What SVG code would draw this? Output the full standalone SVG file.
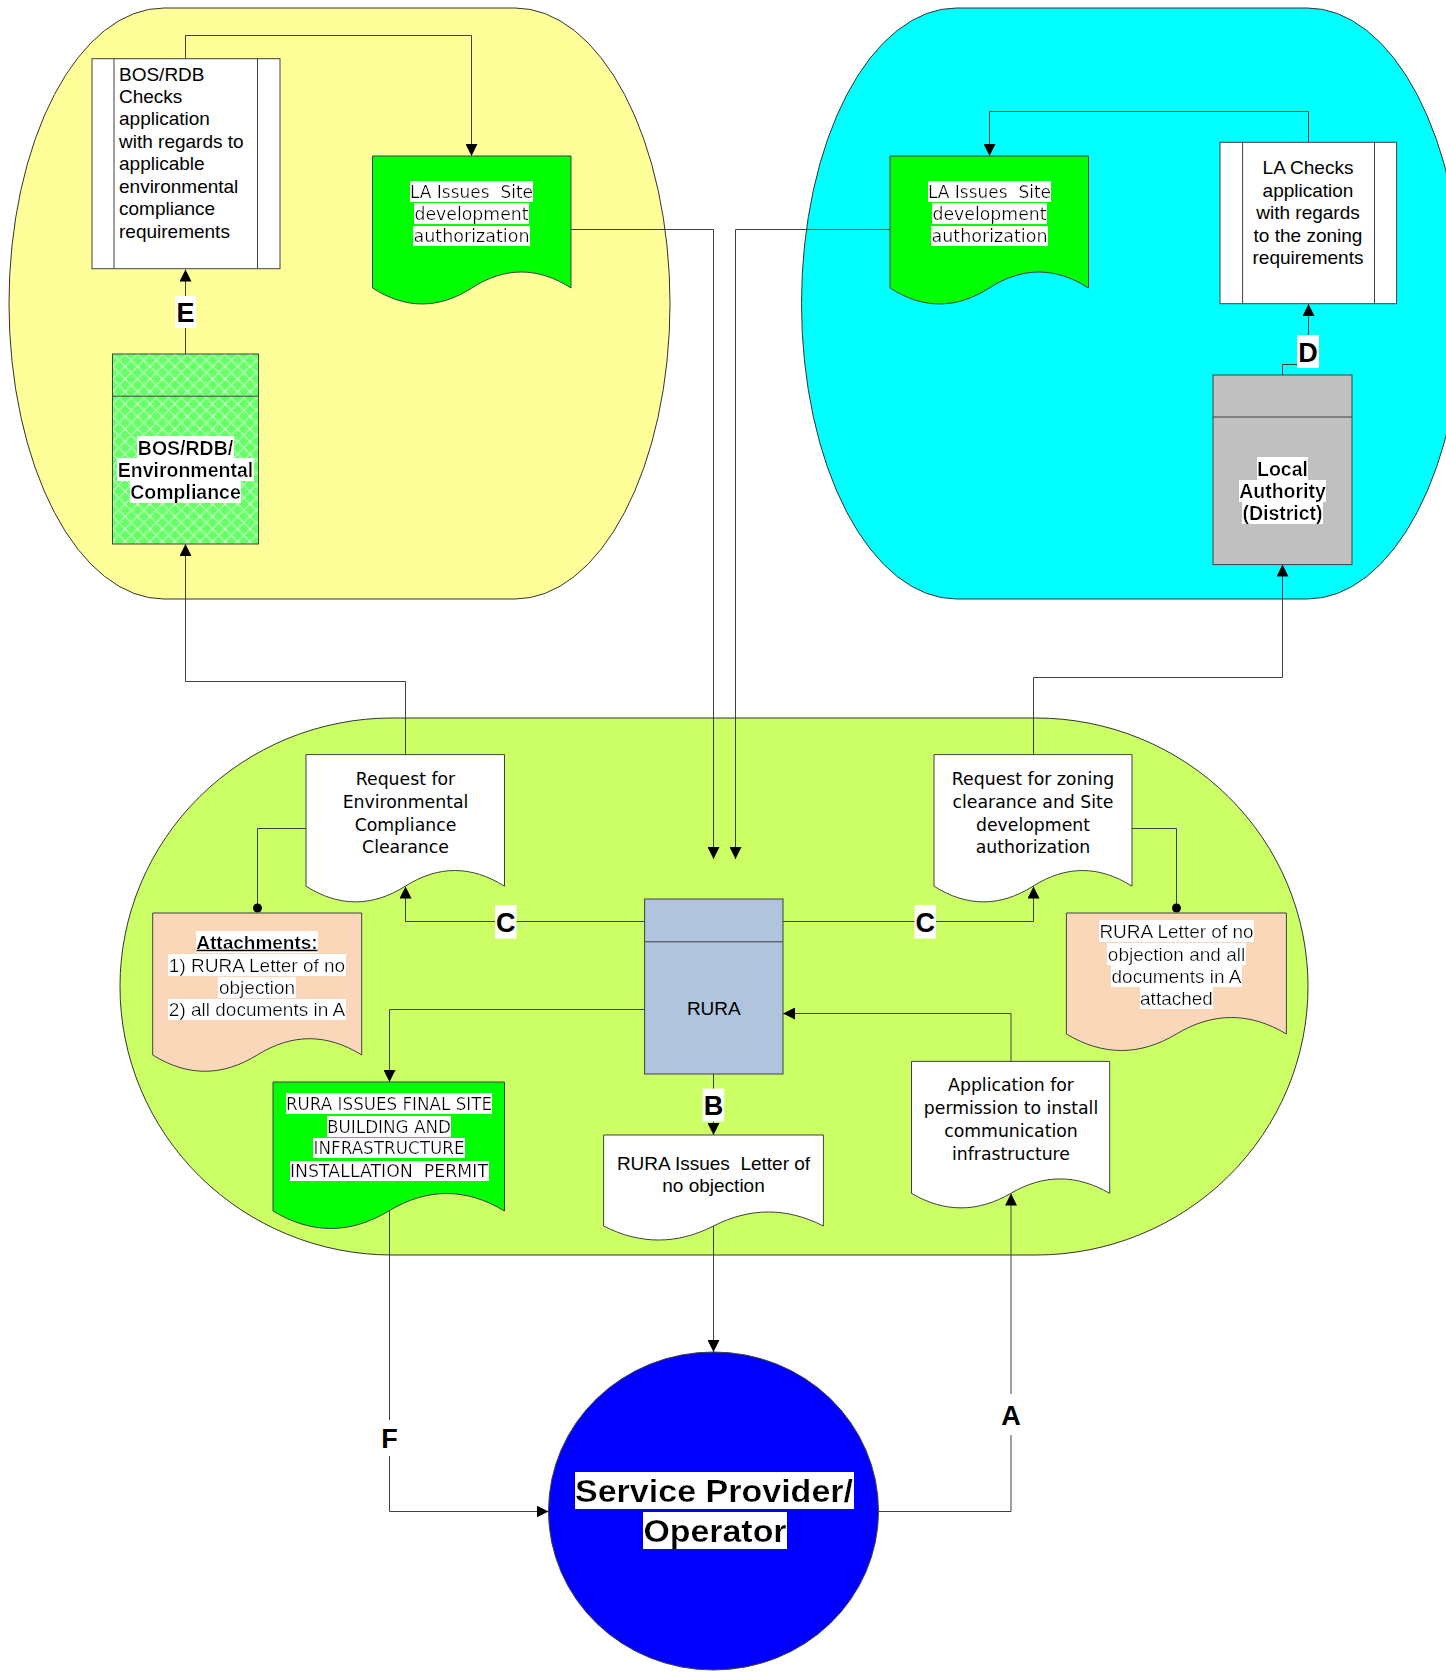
<svg xmlns="http://www.w3.org/2000/svg" width="1446" height="1672" viewBox="0 0 1446 1672">
<defs>
<style>
.blob{stroke:#333;stroke-width:1}
.node{stroke:#404040;stroke-width:1}
.conn{fill:none;stroke:#404040;stroke-width:1}
.t{font-family:"Liberation Sans",Arial,sans-serif;font-size:19px;text-anchor:middle;fill:#000}
.l{text-anchor:start}
.b{font-weight:bold;font-size:19.5px}
.th{font-family:"DejaVu Sans",Tahoma,Verdana,sans-serif;font-size:17.3px}
.tc{font-family:"DejaVu Sans",Tahoma,sans-serif;font-size:17.5px}
.pre{white-space:pre}
.lbl{font-family:"Liberation Sans",Arial,sans-serif;font-weight:bold;font-size:27px;text-anchor:middle;fill:#000}
.sp{font-family:"Liberation Sans",Arial,sans-serif;font-weight:bold;font-size:32px;text-anchor:middle;fill:#000}
.lb{fill:#fff}
</style>
<filter id="hl" x="0" y="0" width="1" height="1">
<feFlood flood-color="#ffffff" result="bg"/>
<feMerge><feMergeNode in="bg"/><feMergeNode in="SourceGraphic"/></feMerge>
</filter>
<marker id="arr" viewBox="0 0 12 12" refX="12" refY="6" markerWidth="12" markerHeight="12" markerUnits="userSpaceOnUse" orient="auto">
<path d="M0,0 L12,6 L0,12 Z" fill="#000"/>
</marker>
<pattern id="hatch" x="112.5" y="354" width="12.5" height="12.5" patternUnits="userSpaceOnUse">
<rect width="12.5" height="12.5" fill="#66FF66"/>
<path d="M0,0 L12.5,12.5 M12.5,0 L0,12.5" stroke="#ffffff" stroke-width="1.3" stroke-dasharray="1.6 1" opacity="0.85"/>
</pattern>
</defs>
<rect width="1446" height="1672" fill="#fff"/>

<g id="zone-environment">
<rect class="blob" x="9" y="8" width="661" height="591" rx="155" ry="295.5" fill="#FFFF99"/>
</g>
<g id="zone-local-authority">
<rect class="blob" x="801.5" y="8" width="661" height="591" rx="155" ry="295.5" fill="#00FFFF"/>
</g>
<g id="zone-rura">
<rect class="blob" x="120" y="718" width="1188" height="537" rx="272" ry="268.5" fill="#CCFF66"/>
</g>

<g id="connectors">
<path class="conn" d="M185.5,58.7 V35.5 H471.5 V156" marker-end="url(#arr)"/>
<path class="conn" d="M571,229.5 H713.5 V859" marker-end="url(#arr)"/>
<path class="conn" d="M890,229.5 H735.5 V859" marker-end="url(#arr)"/>
<path class="conn" d="M1308.5,142.3 V111.5 H989.5 V156" marker-end="url(#arr)"/>
<path class="conn" d="M1282.5,375 V364.5 H1308.5 V304" marker-end="url(#arr)"/>
<path class="conn" d="M185.5,354 V269.5" marker-end="url(#arr)"/>
<path class="conn" d="M405.5,754.6 V681.5 H185.5 V544" marker-end="url(#arr)"/>
<path class="conn" d="M1033.5,754.6 V677.5 H1282.5 V564.5" marker-end="url(#arr)"/>
<path class="conn" d="M306,828.5 H257.5 V908"/>
<circle cx="257.5" cy="908" r="4.5" fill="#000"/>
<path class="conn" d="M1132,828.5 H1176.5 V908"/>
<circle cx="1176.5" cy="908" r="4.5" fill="#000"/>
<path class="conn" d="M644.6,921.5 H405.5 V886.5" marker-end="url(#arr)"/>
<path class="conn" d="M783,921.5 H1033.5 V886.5" marker-end="url(#arr)"/>
<path class="conn" d="M644.6,1009.5 H389.5 V1082" marker-end="url(#arr)"/>
<path class="conn" d="M713.5,1074 V1135" marker-end="url(#arr)"/>
<path class="conn" d="M1011,1061.4 V1013.5 H783" marker-end="url(#arr)"/>
<path class="conn" d="M713.5,1226 V1352" marker-end="url(#arr)"/>
<path class="conn" d="M389.5,1211 V1511.5 H548.5" marker-end="url(#arr)"/>
<path class="conn" d="M878.5,1511.5 H1011 V1193.5" marker-end="url(#arr)"/>
</g>

<g id="bos-checks">
<rect class="node" x="92" y="58.7" width="188" height="210" fill="#fff"/>
<line class="node" x1="114" y1="58.7" x2="114" y2="268.7"/>
<line class="node" x1="257.5" y1="58.7" x2="257.5" y2="268.7"/>
<text class="t l" x="119" y="80.5">BOS/RDB</text>
<text class="t l" x="119" y="102.5">Checks</text>
<text class="t l" x="119" y="125">application</text>
<text class="t l" x="119" y="147.5">with regards to</text>
<text class="t l" x="119" y="170">applicable</text>
<text class="t l" x="119" y="192.5">environmental</text>
<text class="t l" x="119" y="215">compliance</text>
<text class="t l" x="119" y="237.5">requirements</text>
</g>

<g id="la-issues-env">
<path class="node" fill="#00FF00" d="M372.5,156 H571 V288 C537.9,266.7 504.8,266.7 471.75,288 C438.7,309.3 405.6,309.3 372.5,288 Z"/>
<text class="t tc pre" x="471.5" y="197.5" textLength="123" lengthAdjust="spacingAndGlyphs" filter="url(#hl)">LA Issues  Site</text>
<text class="t tc" x="471.5" y="219.5" textLength="114" lengthAdjust="spacingAndGlyphs" filter="url(#hl)">development</text>
<text class="t tc" x="471.5" y="242" textLength="116" lengthAdjust="spacingAndGlyphs" filter="url(#hl)">authorization</text>
</g>

<g id="bos-env-compliance">
<rect class="node" x="112.5" y="354" width="146" height="190" fill="url(#hatch)"/>
<line class="node" x1="112.5" y1="396.2" x2="258.5" y2="396.2"/>
<text class="t b" x="185.5" y="454.5" filter="url(#hl)">BOS/RDB/</text>
<text class="t b" x="185.5" y="476.5" filter="url(#hl)">Environmental</text>
<text class="t b" x="185.5" y="499" filter="url(#hl)">Compliance</text>
</g>

<g id="la-issues-zoning">
<path class="node" fill="#00FF00" d="M890,156 H1088.5 V288 C1055.4,266.7 1022.3,266.7 989.25,288 C956.2,309.3 923.1,309.3 890,288 Z"/>
<text class="t tc pre" x="989.5" y="197.5" textLength="123" lengthAdjust="spacingAndGlyphs" filter="url(#hl)">LA Issues  Site</text>
<text class="t tc" x="989.5" y="219.5" textLength="114" lengthAdjust="spacingAndGlyphs" filter="url(#hl)">development</text>
<text class="t tc" x="989.5" y="242" textLength="116" lengthAdjust="spacingAndGlyphs" filter="url(#hl)">authorization</text>
</g>

<g id="la-checks">
<rect class="node" x="1220" y="142.3" width="176.6" height="161.4" fill="#fff"/>
<line class="node" x1="1242.6" y1="142.3" x2="1242.6" y2="303.7"/>
<line class="node" x1="1374.5" y1="142.3" x2="1374.5" y2="303.7"/>
<text class="t" x="1308" y="173.5">LA Checks</text>
<text class="t" x="1308" y="196.5">application</text>
<text class="t" x="1308" y="218.5">with regards</text>
<text class="t" x="1308" y="241.5">to the zoning</text>
<text class="t" x="1308" y="263.5">requirements</text>
</g>

<g id="local-authority">
<rect class="node" x="1213" y="375" width="139" height="189.6" fill="#C0C0C0"/>
<line class="node" x1="1213" y1="417" x2="1352" y2="417"/>
<text class="t b" x="1282.5" y="475.5" filter="url(#hl)">Local</text>
<text class="t b" x="1282.5" y="498" filter="url(#hl)">Authority</text>
<text class="t b" x="1282.5" y="520" filter="url(#hl)">(District)</text>
</g>

<g id="request-env">
<path class="node" fill="#fff" d="M306,754.6 H504.5 V886.2 C471.4,865.3 438.3,865.3 405.25,886.2 C372.2,907.1 339.1,907.1 306,886.2 Z"/>
<text class="t th" x="405.5" y="785">Request for</text>
<text class="t th" x="405.5" y="807.5">Environmental</text>
<text class="t th" x="405.5" y="830.5">Compliance</text>
<text class="t th" x="405.5" y="853">Clearance</text>
</g>

<g id="request-zoning">
<path class="node" fill="#fff" d="M934,754.6 H1132 V886.2 C1099,865.3 1066,865.3 1033,886.2 C1000,907.1 967,907.1 934,886.2 Z"/>
<text class="t th" x="1033" y="785">Request for zoning</text>
<text class="t th" x="1033" y="807.5">clearance and Site</text>
<text class="t th" x="1033" y="830.5">development</text>
<text class="t th" x="1033" y="853">authorization</text>
</g>

<g id="attachments">
<path class="node" fill="#FBD7B9" d="M152.7,913 H361.7 V1055 C326.87,1033.3 292.03,1033.3 257.2,1055 C222.37,1076.7 187.53,1076.7 152.7,1055 Z"/>
<text class="t" x="257" y="948.5" font-weight="bold" text-decoration="underline" filter="url(#hl)">Attachments:</text>
<text class="t" x="257" y="971.5" filter="url(#hl)">1) RURA Letter of no</text>
<text class="t" x="257" y="994" filter="url(#hl)">objection</text>
<text class="t" x="257" y="1016" filter="url(#hl)">2) all documents in A</text>
</g>

<g id="rura">
<rect class="node" x="644.6" y="899" width="138.4" height="175" fill="#B0C4DE"/>
<line class="node" x1="644.6" y1="941.8" x2="783" y2="941.8"/>
<text class="t" x="713.8" y="1014.5" font-size="19.5">RURA</text>
</g>

<g id="rura-letter-attached">
<path class="node" fill="#FBD7B9" d="M1066.4,913 H1286.4 V1034 C1249.7,1012 1213.1,1012 1176.4,1034 C1139.7,1056 1103.1,1056 1066.4,1034 Z"/>
<text class="t" x="1176.5" y="937.5" font-size="19.5" filter="url(#hl)">RURA Letter of no</text>
<text class="t" x="1176.5" y="960.5" font-size="19.5" filter="url(#hl)">objection and all</text>
<text class="t" x="1176.5" y="982.5" font-size="19.5" filter="url(#hl)">documents in A</text>
<text class="t" x="1176.5" y="1004.5" font-size="19.5" filter="url(#hl)">attached</text>
</g>

<g id="rura-final-permit">
<path class="node" fill="#00FF00" d="M273,1082 H504.5 V1211 C465.9,1187.7 427.3,1187.7 388.75,1211 C350.2,1234.3 311.6,1234.3 273,1211 Z"/>
<text class="t tc" x="389" y="1109.5" textLength="206" lengthAdjust="spacingAndGlyphs" filter="url(#hl)">RURA ISSUES FINAL SITE</text>
<text class="t tc" x="389" y="1132.5" textLength="124" lengthAdjust="spacingAndGlyphs" filter="url(#hl)">BUILDING AND</text>
<text class="t tc" x="389" y="1154" textLength="151" lengthAdjust="spacingAndGlyphs" filter="url(#hl)">INFRASTRUCTURE</text>
<text class="t tc pre" x="389" y="1177" textLength="198" lengthAdjust="spacingAndGlyphs" filter="url(#hl)">INSTALLATION  PERMIT</text>
</g>

<g id="rura-letter-no-objection">
<path class="node" fill="#fff" d="M603.6,1135 H823.4 V1226 C786.8,1207.3 750.1,1207.3 713.5,1226 C676.9,1244.7 640.2,1244.7 603.6,1226 Z"/>
<text class="t pre" x="713.5" y="1169.5" font-size="19.5">RURA Issues  Letter of</text>
<text class="t" x="713.5" y="1192" font-size="19.5">no objection</text>
</g>

<g id="application">
<path class="node" fill="#fff" d="M911.5,1061.4 H1109.7 V1193.4 C1076.7,1174.1 1043.6,1174.1 1010.6,1193.4 C977.6,1212.7 944.5,1212.7 911.5,1193.4 Z"/>
<text class="t th" x="1011" y="1091">Application for</text>
<text class="t th" x="1011" y="1113.5">permission to install</text>
<text class="t th" x="1011" y="1136.5">communication</text>
<text class="t th" x="1011" y="1159.5">infrastructure</text>
</g>

<g id="service-provider">
<ellipse class="node" cx="713.5" cy="1511" rx="165" ry="159" fill="#0000FF"/>
<text class="sp" x="714" y="1501.5" textLength="278" lengthAdjust="spacingAndGlyphs" filter="url(#hl)">Service Provider/</text>
<text class="sp" x="715" y="1541.5" textLength="143" lengthAdjust="spacingAndGlyphs" filter="url(#hl)">Operator</text>
</g>

<g id="labels">
<rect class="lb" x="175" y="296" width="21" height="32"/>
<text class="lbl" x="185.5" y="322">E</text>
<rect class="lb" x="1297" y="335" width="22" height="33"/>
<text class="lbl" x="1308" y="361.5">D</text>
<rect class="lb" x="495" y="905" width="21.5" height="33.5"/>
<text class="lbl" x="505.8" y="931.5">C</text>
<rect class="lb" x="914.5" y="905" width="21.5" height="33.5"/>
<text class="lbl" x="925.2" y="931.5">C</text>
<rect class="lb" x="702.7" y="1088.6" width="21.5" height="33"/>
<text class="lbl" x="713.5" y="1115">B</text>
<rect class="lb" x="379" y="1420" width="21" height="36"/>
<text class="lbl" x="389.5" y="1447.5">F</text>
<rect class="lb" x="1000" y="1394" width="22" height="41"/>
<text class="lbl" x="1011" y="1425">A</text>
</g>
</svg>
